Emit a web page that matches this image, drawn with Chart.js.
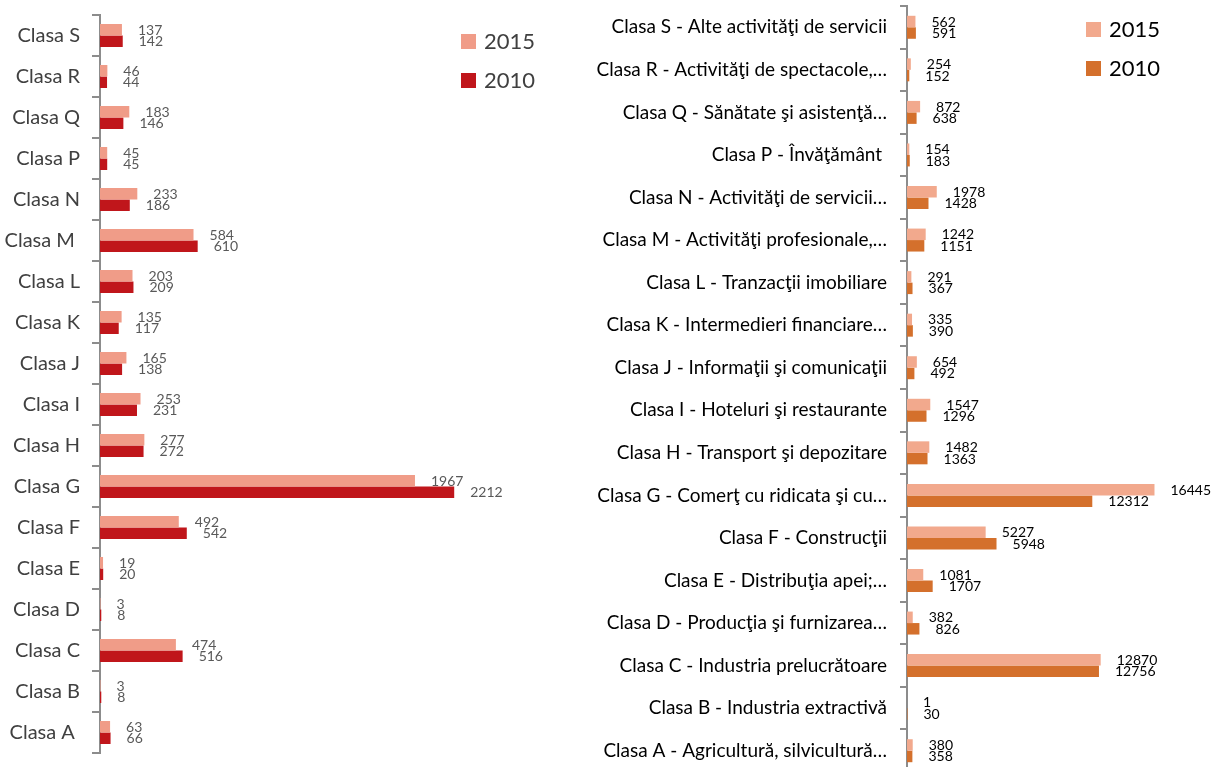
<!DOCTYPE html>
<html>
<head>
<meta charset="utf-8">
<script src="https://cdn.jsdelivr.net/npm/chart.js@4"></script>
<style>
  html, body { margin: 0; padding: 0; background: #fff; overflow: hidden; }
  #wrap { position: relative; width: 1211px; height: 767px; }
  #left { position: absolute; left: 0; top: 0; width: 590px; height: 767px; }
  #right { position: absolute; left: 590px; top: 0; width: 621px; height: 772px; }
</style>
</head>
<body>
<div id="wrap">
  <div id="left"><canvas id="leftChart"></canvas></div>
  <div id="right"><canvas id="rightChart"></canvas></div>
</div>
<script>
// left chart - numar intreprinderi (clase CAEN)
const leftLabels = ["Clasa S", "Clasa R", "Clasa Q", "Clasa P", "Clasa N", "Clasa M ", "Clasa L", "Clasa K",
  "Clasa J", "Clasa I", "Clasa H", "Clasa G", "Clasa F", "Clasa E", "Clasa D", "Clasa C", "Clasa B", "Clasa A "];
const left2015 = [137, 46, 183, 45, 233, 584, 203, 135, 165, 253, 277, 1967, 492, 19, 3, 474, 3, 63];
const left2010 = [142, 44, 146, 45, 186, 610, 209, 117, 138, 231, 272, 2212, 542, 20, 8, 516, 8, 66];

// right chart
const rightLabels = [
  "Clasa S - Alte activităţi de servicii",
  "Clasa R - Activităţi de spectacole,…",
  "Clasa Q - Sănătate şi asistenţă…",
  "Clasa P - Învăţământ ",
  "Clasa N - Activităţi de servicii…",
  "Clasa M - Activităţi profesionale,…",
  "Clasa L - Tranzacţii imobiliare",
  "Clasa K - Intermedieri financiare…",
  "Clasa J - Informaţii şi comunicaţii",
  "Clasa I - Hoteluri şi restaurante",
  "Clasa H - Transport şi depozitare",
  "Clasa G - Comerţ cu ridicata şi cu…",
  "Clasa F - Construcţii",
  "Clasa E - Distribuţia apei;…",
  "Clasa D - Producţia şi furnizarea…",
  "Clasa C - Industria prelucrătoare",
  "Clasa B - Industria extractivă",
  "Clasa A - Agricultură, silvicultură…"
];
const right2015 = [562, 254, 872, 154, 1978, 1242, 291, 335, 654, 1547, 1482, 16445, 5227, 1081, 382, 12870, 1, 380];
const right2010 = [591, 152, 638, 183, 1428, 1151, 367, 390, 492, 1296, 1363, 12312, 5948, 1707, 826, 12756, 30, 358];

const seriesNames = ["2015", "2010"];

// numbers next to the bars
const valueLabels = {
  id: "valueLabels",
  afterDatasetsDraw(chart, args, opts) {
    const ctx = chart.ctx;
    ctx.save();
    ctx.font = opts.font;
    ctx.fillStyle = opts.color;
    ctx.textAlign = "left";
    ctx.textBaseline = "middle";
    chart.data.datasets.forEach((ds, i) => {
      chart.getDatasetMeta(i).data.forEach((bar, j) => {
        ctx.fillText(ds.data[j], bar.x + opts.offset, bar.y + 0.5);
      });
    });
    ctx.restore();
  }
};

// legend drawn at a fixed spot, like the original
const sideLegend = {
  id: "sideLegend",
  afterDraw(chart, args, opts) {
    const ctx = chart.ctx;
    ctx.save();
    ctx.font = opts.font;
    ctx.textAlign = "left";
    ctx.textBaseline = "middle";
    chart.data.datasets.forEach((ds, i) => {
      const y = opts.y + i * opts.gap;
      ctx.fillStyle = ds.backgroundColor;
      ctx.fillRect(opts.x, y, 15, 15);
      ctx.fillStyle = opts.color;
      ctx.fillText(ds.label, opts.x + 23, y + 8);
    });
    ctx.restore();
  }
};

function makeChart(id, labels, d2015, d2010, cfg) {
  return new Chart(document.getElementById(id), {
    type: "bar",
    data: {
      labels: labels,
      datasets: [
        { label: seriesNames[0], data: d2015, backgroundColor: cfg.c2015 },
        { label: seriesNames[1], data: d2010, backgroundColor: cfg.c2010 }
      ]
    },
    options: {
      indexAxis: "y",
      responsive: true,
      maintainAspectRatio: false,
      animation: false,
      categoryPercentage: cfg.catPct,
      barPercentage: 1,
      layout: { padding: cfg.padding },
      scales: {
        x: { display: false, min: 0, max: cfg.max },
        y: {
          afterFit: (scale) => {
            scale.width = cfg.axisX;
            // no extra room for the first/last label
            scale.paddingTop = 0;
            scale.paddingBottom = 0;
          },
          border: { display: true, color: "#8c8c8c", width: 2 },
          grid: { drawOnChartArea: false, drawTicks: true, tickLength: cfg.tickLen, color: "#8c8c8c", lineWidth: 2 },
          ticks: { padding: cfg.tickPad, color: cfg.labelColor, font: { family: "Lato", size: cfg.labelSize } }
        }
      },
      plugins: {
        legend: { display: false },
        tooltip: { enabled: false },
        valueLabels: { font: "14px Lato", color: cfg.valueColor, offset: 16 },
        sideLegend: { x: cfg.legX, y: cfg.legY, gap: 39, font: "22px Lato", color: cfg.legColor }
      }
    },
    plugins: [valueLabels, sideLegend]
  });
}

makeChart("leftChart", leftLabels, left2015, left2010, {
  c2015: "#f09c88", c2010: "#c0161b",
  max: 3060, axisX: 100, tickLen: 8, tickPad: 12, catPct: 0.56,
  padding: { top: 15, bottom: 14, left: 0, right: 0 },
  labelColor: "#404040", labelSize: 20, valueColor: "#595959",
  legX: 461, legY: 34, legColor: "#404040"
});

makeChart("rightChart", rightLabels, right2015, right2010, {
  c2015: "#f2a98d", c2010: "#d4702c",
  max: 20200, axisX: 317, tickLen: 7, tickPad: 13, catPct: 0.54,
  padding: { top: 6, bottom: 0, left: 0, right: 0 },
  labelColor: "#000000", labelSize: 19, valueColor: "#000000",
  legX: 496, legY: 22, legColor: "#000000"
});
</script>
</body>
</html>
